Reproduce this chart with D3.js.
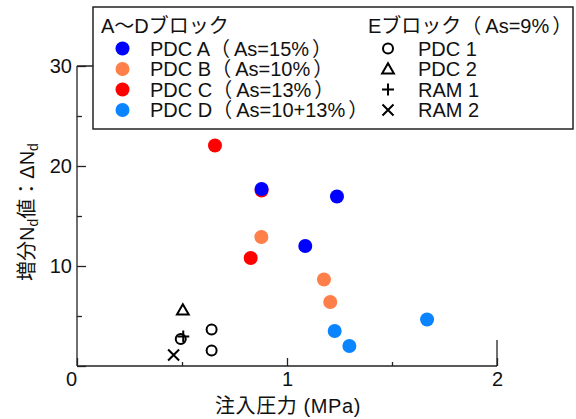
<!DOCTYPE html>
<html>
<head>
<meta charset="utf-8">
<script src="https://cdn.jsdelivr.net/npm/d3@7"></script>
<style>
  html, body { margin: 0; padding: 0; background: #fff; }
  svg text { font-family: "Liberation Sans", Arial, "Noto Sans CJK JP", sans-serif; fill: #111; }
</style>
</head>
<body>
<svg id="chart" width="576" height="419"></svg>
<script>
// Injection pressure (MPa) vs. increment of N-value (ΔNd)
const pdcA = [[0.879, 17.7], [1.087, 12.0], [1.238, 16.95]];
const pdcB = [[0.878, 12.9], [1.176, 8.65], [1.206, 6.4]];
const pdcC = [[0.657, 22.05], [0.879, 17.55], [0.827, 10.8]];
const pdcD = [[1.667, 4.65], [1.227, 3.5], [1.297, 2.0]];
const pdc1 = [[0.641, 3.65], [0.641, 1.55], [0.494, 2.7]];
const pdc2 = [[0.504, 5.6]];
const ram1 = [[0.506, 2.95]];
const ram2 = [[0.46, 1.1]];

const xMajor = [0, 1, 2];
const xMinor = [0.5, 1.5];
const yMajor = [0, 10, 20, 30];
const yMinor = [5, 15, 25];
const yLabels = [10, 20, 30];

const leftLegend = ["PDC A（As=15%）", "PDC B（As=10%）", "PDC C（As=13%）", "PDC D（As=10+13%）"];
const rightLegend = ["PDC 1", "PDC 2", "RAM 1", "RAM 2"];
const leftTitle = "A～Dブロック";
const rightTitle = "Eブロック（As=9%）";
const xTitle = "注入圧力 (MPa)";

const colA = "#0000ff", colB = "#ff7f4a", colC = "#ff0000", colD = "#0a84ff";
const FS = 20;

const svg = d3.select("#chart");
const x = d3.scaleLinear().domain([0, 2]).range([77, 497]);
const y = d3.scaleLinear().domain([0, 30]).range([366, 66]);

const axisColor = "#222";

// frame lines: left axis, bottom axis, top edge
svg.append("line").attr("x1", x(0)).attr("x2", x(0)).attr("y1", y(30)).attr("y2", y(0))
  .attr("stroke", axisColor).attr("stroke-width", 1.3);
svg.append("line").attr("x1", x(0)).attr("x2", x(2)).attr("y1", y(0)).attr("y2", y(0))
  .attr("stroke", axisColor).attr("stroke-width", 1.3);
svg.append("line").attr("x1", x(0)).attr("x2", x(2)).attr("y1", y(30)).attr("y2", y(30))
  .attr("stroke", axisColor).attr("stroke-width", 1.3);
// short closing edge at the right end of the x axis
svg.append("line").attr("x1", x(2)).attr("x2", x(2)).attr("y1", y(0)).attr("y2", y(0) - 26)
  .attr("stroke", axisColor).attr("stroke-width", 1.3);

// y axis ticks (inward)
const yAxisMajor = d3.axisLeft(y).tickValues(yMajor).tickSize(-9).tickFormat("");
const yAxisMinor = d3.axisLeft(y).tickValues(yMinor).tickSize(-5).tickFormat("");
[yAxisMajor, yAxisMinor].forEach(a => {
  const g = svg.append("g").attr("transform", `translate(${x(0)},0)`).call(a);
  g.select(".domain").remove();
  g.selectAll("line").attr("stroke", axisColor).attr("stroke-width", 1.3);
});
const yLab = svg.append("g").attr("transform", `translate(${x(0)},0)`)
  .call(d3.axisLeft(y).tickValues(yLabels).tickSize(0).tickPadding(5).tickFormat(d3.format("d")));
yLab.select(".domain").remove();
yLab.selectAll("text").attr("font-size", FS).attr("font-family", "Liberation Sans, Arial").attr("fill", "#111");

// x axis ticks (inward)
const xAxisMajor = d3.axisBottom(x).tickValues(xMajor).tickSize(-8).tickFormat("");
const xAxisMinor = d3.axisBottom(x).tickValues(xMinor).tickSize(-4).tickFormat("");
[xAxisMajor, xAxisMinor].forEach(a => {
  const g = svg.append("g").attr("transform", `translate(0,${y(0)})`).call(a);
  g.select(".domain").remove();
  g.selectAll("line").attr("stroke", axisColor).attr("stroke-width", 1.3);
});
const xLab = svg.append("g").attr("transform", `translate(0,${y(0)})`)
  .call(d3.axisBottom(x).tickValues(xMajor).tickSize(0).tickPadding(6).tickFormat(d3.format("d")));
xLab.select(".domain").remove();
xLab.selectAll("text").attr("font-size", FS).attr("font-family", "Liberation Sans, Arial").attr("fill", "#111")
  .attr("dx", d => d === 0 ? -6 : 0);

// axis titles
svg.append("text").attr("x", 288).attr("y", 413).attr("text-anchor", "middle")
  .attr("font-size", FS).attr("letter-spacing", 0.6).text(xTitle);

const yt = svg.append("text").attr("transform", "translate(34,212) rotate(-90)")
  .attr("text-anchor", "middle").attr("font-size", FS);
yt.append("tspan").text("増分N");
yt.append("tspan").attr("font-size", 14).attr("dy", 4).text("d");
yt.append("tspan").attr("dy", -4).text("値：ΔN");
yt.append("tspan").attr("font-size", 14).attr("dy", 4).text("d");

// markers
function dots(data, color) {
  svg.append("g").selectAll("circle").data(data).join("circle")
    .attr("cx", d => x(d[0])).attr("cy", d => y(d[1])).attr("r", 7).attr("fill", color);
}
dots(pdcC, colC);
dots(pdcA, colA);
dots(pdcB, colB);
dots(pdcD, colD);

const stroke = "#000";
svg.append("g").selectAll("circle").data(pdc1).join("circle")
  .attr("cx", d => x(d[0])).attr("cy", d => y(d[1])).attr("r", 5)
  .attr("fill", "none").attr("stroke", stroke).attr("stroke-width", 2);

const triPath = d3.symbol().type(d3.symbolTriangle).size(60);
svg.append("g").selectAll("path").data(pdc2).join("path")
  .attr("transform", d => `translate(${x(d[0])},${y(d[1]) + 1})`)
  .attr("d", triPath).attr("fill", "none").attr("stroke", stroke).attr("stroke-width", 2);

function cross(g, cx, cy, s, rotated) {
  const p = rotated
    ? `M${cx - s},${cy - s}L${cx + s},${cy + s}M${cx - s},${cy + s}L${cx + s},${cy - s}`
    : `M${cx - s},${cy}L${cx + s},${cy}M${cx},${cy - s}L${cx},${cy + s}`;
  g.append("path").attr("d", p).attr("stroke", stroke).attr("stroke-width", 2).attr("fill", "none");
}
ram1.forEach(d => cross(svg, x(d[0]), y(d[1]), 6, false));
ram2.forEach(d => cross(svg, x(d[0]), y(d[1]), 5.5, true));

// legend text with a little breathing room around full-width brackets
function labelText(g, tx, ty, str) {
  const t = g.append("text").attr("x", tx).attr("y", ty).attr("font-size", FS);
  const parts = str.split(/(（|）)/).filter(s => s.length);
  let prev = null;
  parts.forEach(p => {
    const ts = t.append("tspan").text(p);
    if (p === "）") ts.attr("dx", 3);
    else if (prev === "（") ts.attr("dx", 4);
    prev = p;
  });
  return t;
}

const lg = svg.append("g");
lg.append("rect").attr("x", 93).attr("y", 7).attr("width", 480).attr("height", 122)
  .attr("fill", "#fff").attr("stroke", "#222").attr("stroke-width", 1.5);
labelText(lg, 101, 33, leftTitle);
labelText(lg, 368, 33, rightTitle);
const rowY = [48.5, 69, 89.5, 110];
const leftCols = [colA, colB, colC, colD];
leftLegend.forEach((t, i) => {
  lg.append("circle").attr("cx", 122.5).attr("cy", rowY[i]).attr("r", 7).attr("fill", leftCols[i]);
  labelText(lg, 150, rowY[i] + 7, t);
});
rightLegend.forEach((t, i) => {
  labelText(lg, 418, rowY[i] + 7, t);
});
const mx = 388;
lg.append("circle").attr("cx", mx).attr("cy", rowY[0]).attr("r", 5)
  .attr("fill", "none").attr("stroke", stroke).attr("stroke-width", 2);
lg.append("path").attr("transform", `translate(${mx},${rowY[1] + 1})`).attr("d", triPath)
  .attr("fill", "none").attr("stroke", stroke).attr("stroke-width", 2);
cross(lg, mx, rowY[2], 6, false);
cross(lg, mx, rowY[3], 5.5, true);
</script>
</body>
</html>
